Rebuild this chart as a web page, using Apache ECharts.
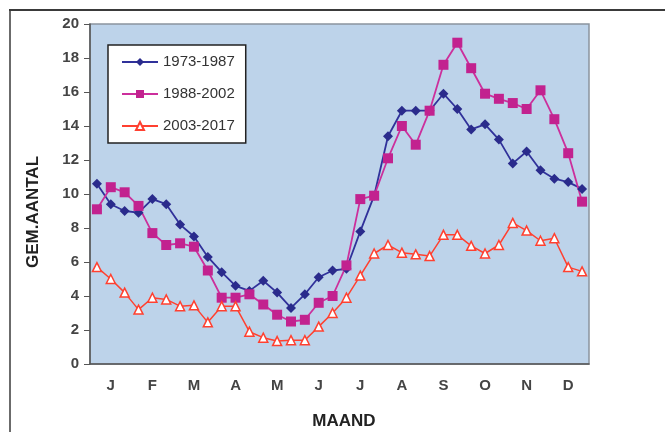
<!DOCTYPE html>
<html>
<head>
<meta charset="utf-8">
<script src="https://cdn.jsdelivr.net/npm/echarts@6/dist/echarts.min.js"></script>
<style>
  html, body { margin: 0; padding: 0; background: #fff; }
  #chart { width: 665px; height: 432px; }
</style>
</head>
<body>
<div id="chart"></div>
<script>
  // maanden, elk in drie decaden
  const months = ["J", "F", "M", "A", "M", "J", "J", "A", "S", "O", "N", "D"];
  const yTicks = [0, 2, 4, 6, 8, 10, 12, 14, 16, 18, 20];
  const seriesNames = ["1973-1987", "1988-2002", "2003-2017"];

  const p1973 = [10.6, 9.4, 9.0, 8.9, 9.7, 9.4, 8.2, 7.5, 6.3, 5.4, 4.6, 4.3,
                 4.9, 4.2, 3.3, 4.1, 5.1, 5.5, 5.6, 7.8, 9.9, 13.4, 14.9, 14.9,
                 14.9, 15.9, 15.0, 13.8, 14.1, 13.2, 11.8, 12.5, 11.4, 10.9, 10.7, 10.3];
  const p1988 = [9.1, 10.4, 10.1, 9.3, 7.7, 7.0, 7.1, 6.9, 5.5, 3.9, 3.9, 4.1,
                 3.5, 2.9, 2.5, 2.6, 3.6, 4.0, 5.8, 9.7, 9.9, 12.1, 14.0, 12.9,
                 14.9, 17.6, 18.9, 17.4, 15.9, 15.6, 15.35, 15.0, 16.1, 14.4, 12.4, 9.55];
  const p2003 = [5.7, 5.0, 4.2, 3.2, 3.9, 3.8, 3.4, 3.45, 2.45, 3.4, 3.4, 1.9,
                 1.55, 1.35, 1.4, 1.4, 2.2, 3.0, 3.9, 5.2, 6.5, 7.0, 6.55, 6.45,
                 6.35, 7.6, 7.6, 6.95, 6.5, 7.0, 8.3, 7.85, 7.25, 7.4, 5.7, 5.45];

  const categories = [];
  months.forEach(function (m, i) {
    for (let d = 1; d <= 3; d++) categories.push(i + "-" + d);
  });

  const font = "Liberation Sans, Arial, sans-serif";
  const myChart = echarts.init(document.getElementById("chart"));

  const option = {
    animation: false,
    backgroundColor: "#ffffff",
    grid: {
      left: 90, right: 76, top: 24, bottom: 68,
      show: true,
      backgroundColor: "#bdd3ea",
      borderColor: "#8a949e",
      borderWidth: 1.5,
    },
    legend: {
      orient: "vertical",
      left: 108, top: 45,
      padding: [9, 11, 9, 13],
      itemGap: 16,
      itemWidth: 36,
      itemHeight: 10,
      backgroundColor: "#ffffff",
      borderColor: "#222222",
      borderWidth: 1.5,
      data: seriesNames,
      textStyle: { fontFamily: font, fontSize: 15, color: "#333", lineHeight: 16 },
    },
    xAxis: {
      type: "category",
      data: categories,
      boundaryGap: true,
      axisLine: { lineStyle: { color: "#555", width: 1.5 } },
      axisTick: { interval: 2, length: 6, lineStyle: { color: "#555" } },
      axisLabel: {
        interval: function (i) { return i % 3 === 1; },
        formatter: function (v, i) { return months[Math.floor(i / 3)]; },
        fontFamily: font, fontSize: 15, fontWeight: "bold", color: "#444", margin: 14,
      },
      splitLine: { show: false },
    },
    yAxis: {
      type: "value",
      min: yTicks[0],
      max: yTicks[yTicks.length - 1],
      interval: yTicks[1] - yTicks[0],
      axisLine: { show: true, lineStyle: { color: "#555", width: 1.5 } },
      axisTick: { show: true, length: 6, lineStyle: { color: "#555" } },
      axisLabel: { fontFamily: font, fontSize: 15, fontWeight: "bold", color: "#444", margin: 11 },
      splitLine: { show: false },
    },
    graphic: [
      { type: "line", shape: { x1: 9, y1: 10, x2: 665, y2: 10 }, style: { stroke: "#3a3a3a", lineWidth: 2 } },
      { type: "line", shape: { x1: 10, y1: 10, x2: 10, y2: 432 }, style: { stroke: "#3a3a3a", lineWidth: 1.5 } },
      {
        type: "text", x: 33, y: 212, rotation: Math.PI / 2,
        style: { text: "GEM.AANTAL", font: "bold 17px " + font, fill: "#222", textAlign: "center", textVerticalAlign: "middle" },
      },
      {
        type: "text", x: 344, y: 421,
        style: { text: "MAAND", font: "bold 17px " + font, fill: "#222", textAlign: "center", textVerticalAlign: "middle" },
      },
    ],
    series: [
      {
        name: seriesNames[0], type: "line", data: p1973,
        symbol: "diamond", symbolSize: 10,
        lineStyle: { color: "#30319a", width: 1.8 },
        itemStyle: { color: "#2a2b8c" },
      },
      {
        name: seriesNames[1], type: "line", data: p1988,
        symbol: "rect", symbolSize: 10,
        lineStyle: { color: "#cc2f9c", width: 1.8 },
        itemStyle: { color: "#c2228f" },
      },
      {
        name: seriesNames[2], type: "line", data: p2003,
        symbol: "triangle", symbolSize: 9,
        lineStyle: { color: "#ff4030", width: 1.5 },
        itemStyle: { color: "#ffffff", borderColor: "#ff4030", borderWidth: 1.5 },
      },
    ],
  };
  option.series.forEach(function (s) { s.showAllSymbol = true; });
  myChart.setOption(option);
</script>
</body>
</html>
